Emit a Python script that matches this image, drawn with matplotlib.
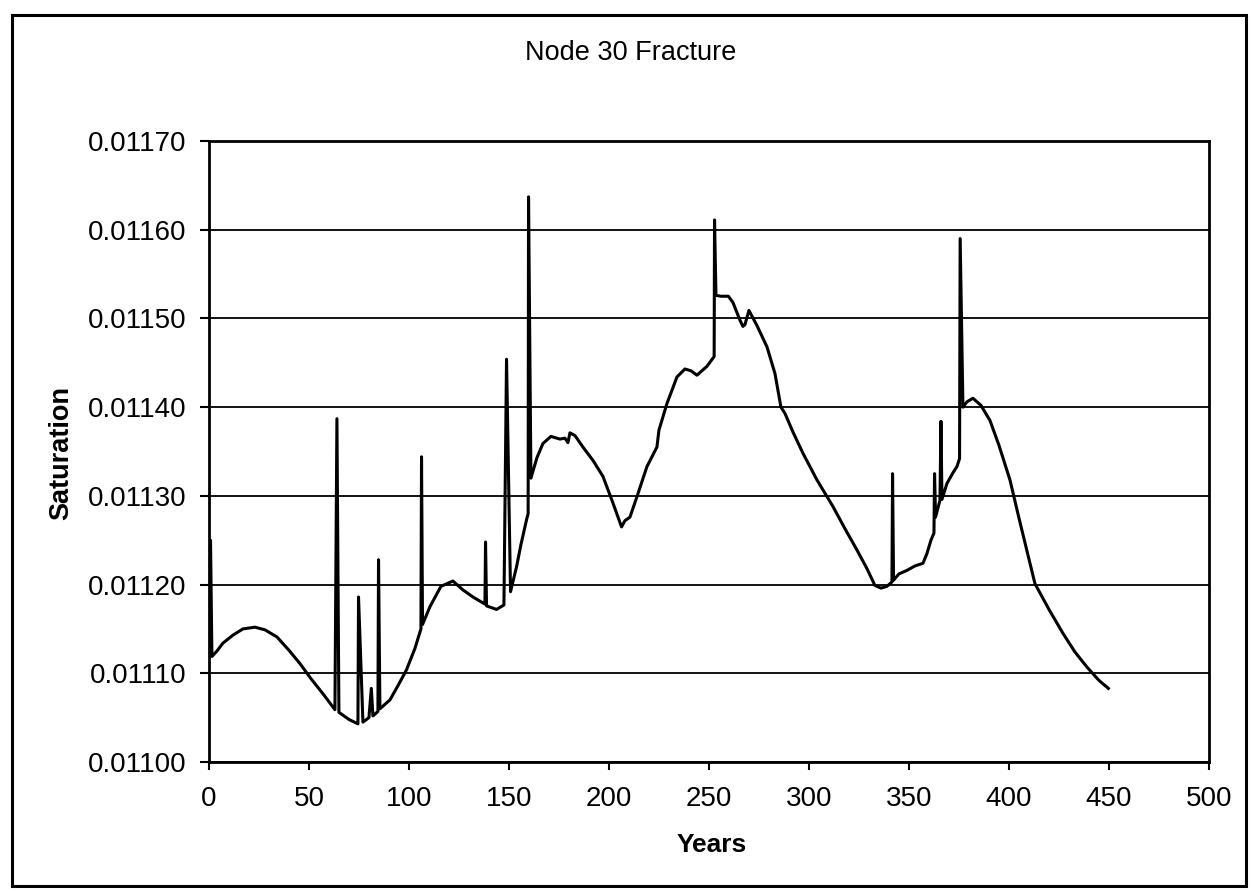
import matplotlib
matplotlib.use("Agg")
import matplotlib.pyplot as plt
from matplotlib.patches import Rectangle

plt.rcParams['font.family'] = ['Liberation Sans', 'DejaVu Sans']

# saturation history at node 30 (fracture continuum)
years = [0, 0.8, 1.5, 4, 7, 12, 17, 23, 28, 34, 40, 45.5, 51, 57, 63,
         64, 65, 70, 74.5, 74.8, 77, 80, 81.2, 82, 84.5, 84.8, 85.5,
         90.5, 95, 98.8, 103, 106, 106.3, 106.8, 110.5, 116, 122, 127,
         132, 138, 138.3, 138.8, 143.8, 147.5, 148.8, 150.8, 153.8, 156,
         158.8, 159.6, 159.8, 161, 164, 167, 171, 175.5, 178, 179.5,
         180.5, 183, 187, 192, 197, 202, 206.3, 208, 210.5, 214, 219,
         224, 225, 229, 234, 238, 241, 244, 249, 252, 252.6, 252.8,
         253.5, 256, 259.7, 262, 265.5, 267, 268, 270, 274, 279, 283,
         286, 288, 292, 297, 304, 312, 318, 324, 329, 333, 336, 339,
         341.5, 341.8, 342.3, 345, 349, 353, 357, 359, 361, 362.5, 362.8,
         363.3, 365.5, 366, 366.5, 369, 372, 374, 375.3, 375.6, 377, 379,
         382, 386, 390.5, 395, 400.5, 405, 410.5, 413, 420, 427, 433,
         439, 445, 449.7]
saturation = [0.011120, 0.011250, 0.011119, 0.011125, 0.011134, 0.011143,
              0.011150, 0.011152, 0.011149, 0.011141, 0.011126, 0.011111,
              0.011094, 0.011077, 0.011059,
              0.011387, 0.011056, 0.011048, 0.011043, 0.011186, 0.011045,
              0.011050, 0.011083, 0.011052, 0.011057, 0.011228, 0.011060,
              0.011070, 0.011088, 0.011104, 0.011128, 0.011150, 0.011344,
              0.011155, 0.011175, 0.011198, 0.011204, 0.011194,
              0.011186, 0.011178, 0.011248, 0.011176, 0.011172, 0.011177,
              0.011454, 0.011192, 0.011220, 0.011245,
              0.011273, 0.011280, 0.011637, 0.011320, 0.011343, 0.011359,
              0.011367, 0.011364, 0.011365, 0.011360,
              0.011371, 0.011368, 0.011355, 0.011340, 0.011322, 0.011292,
              0.011265, 0.011272, 0.011276, 0.011299, 0.011333,
              0.011355, 0.011374, 0.011404, 0.011434, 0.011443, 0.011441,
              0.011436, 0.011446, 0.011455, 0.011457, 0.011611,
              0.011526, 0.011525, 0.011525, 0.011518, 0.011498, 0.011491,
              0.011493, 0.011509, 0.011492, 0.011468, 0.011438,
              0.011400, 0.011393, 0.011372, 0.011348, 0.011318, 0.011288,
              0.011263, 0.011239, 0.011218, 0.011199, 0.011196, 0.011198,
              0.011203, 0.011325, 0.011205, 0.011212, 0.011216, 0.011221,
              0.011224, 0.011235, 0.011250, 0.011258, 0.011325,
              0.011276, 0.011295, 0.011384, 0.011296, 0.011314, 0.011326,
              0.011333, 0.011342, 0.011590, 0.011400, 0.011406,
              0.011410, 0.011402, 0.011385, 0.011357, 0.011318, 0.011275,
              0.011224, 0.011201, 0.011172, 0.011145, 0.011124,
              0.011107, 0.011092, 0.011083]

x_ticks = [0, 50, 100, 150, 200, 250, 300, 350, 400, 450, 500]
y_ticks = [0.01100, 0.01110, 0.01120, 0.01130, 0.01140, 0.01150,
           0.01160, 0.01170]

fig = plt.figure(figsize=(12.51, 8.90), dpi=100)
ax = fig.add_axes([0.167, 0.1438, 0.7994, 0.6978])

ax.plot(years, saturation, color='black', linewidth=2.2,
        solid_joinstyle='round')

ax.set_xlim(0, 500)
ax.set_ylim(0.01100, 0.01170)
ax.set_xticks(x_ticks)
ax.set_yticks(y_ticks)
ax.set_yticklabels([f"{v:.5f}" for v in y_ticks])
ax.tick_params(axis='both', labelsize=20, direction='out', width=1.5,
               color='black')
ax.tick_params(axis='x', length=6, pad=11)
ax.tick_params(axis='y', length=6.5, pad=9.5)
ax.yaxis.grid(True, color='black', linewidth=1.3)
ax.set_axisbelow(True)
for spine in ax.spines.values():
    spine.set_linewidth(2)

fig.text(0.504, 0.940, "Node 30 Fracture", ha='center', va='center',
         fontsize=19.5)
fig.text(0.569, 0.050, "Years", ha='center', va='center',
         fontsize=19, fontweight='bold')
fig.text(0.049, 0.491, "Saturation", ha='center', va='center',
         fontsize=19.5, fontweight='bold', rotation=90)

# outer chart frame
fig.patches.append(Rectangle((12 / 1251, 4 / 890), 1234 / 1251, 871 / 890,
                             transform=fig.transFigure, fill=False,
                             edgecolor='black', linewidth=2.2))

fig.savefig("out.png", dpi=100, facecolor='white')
